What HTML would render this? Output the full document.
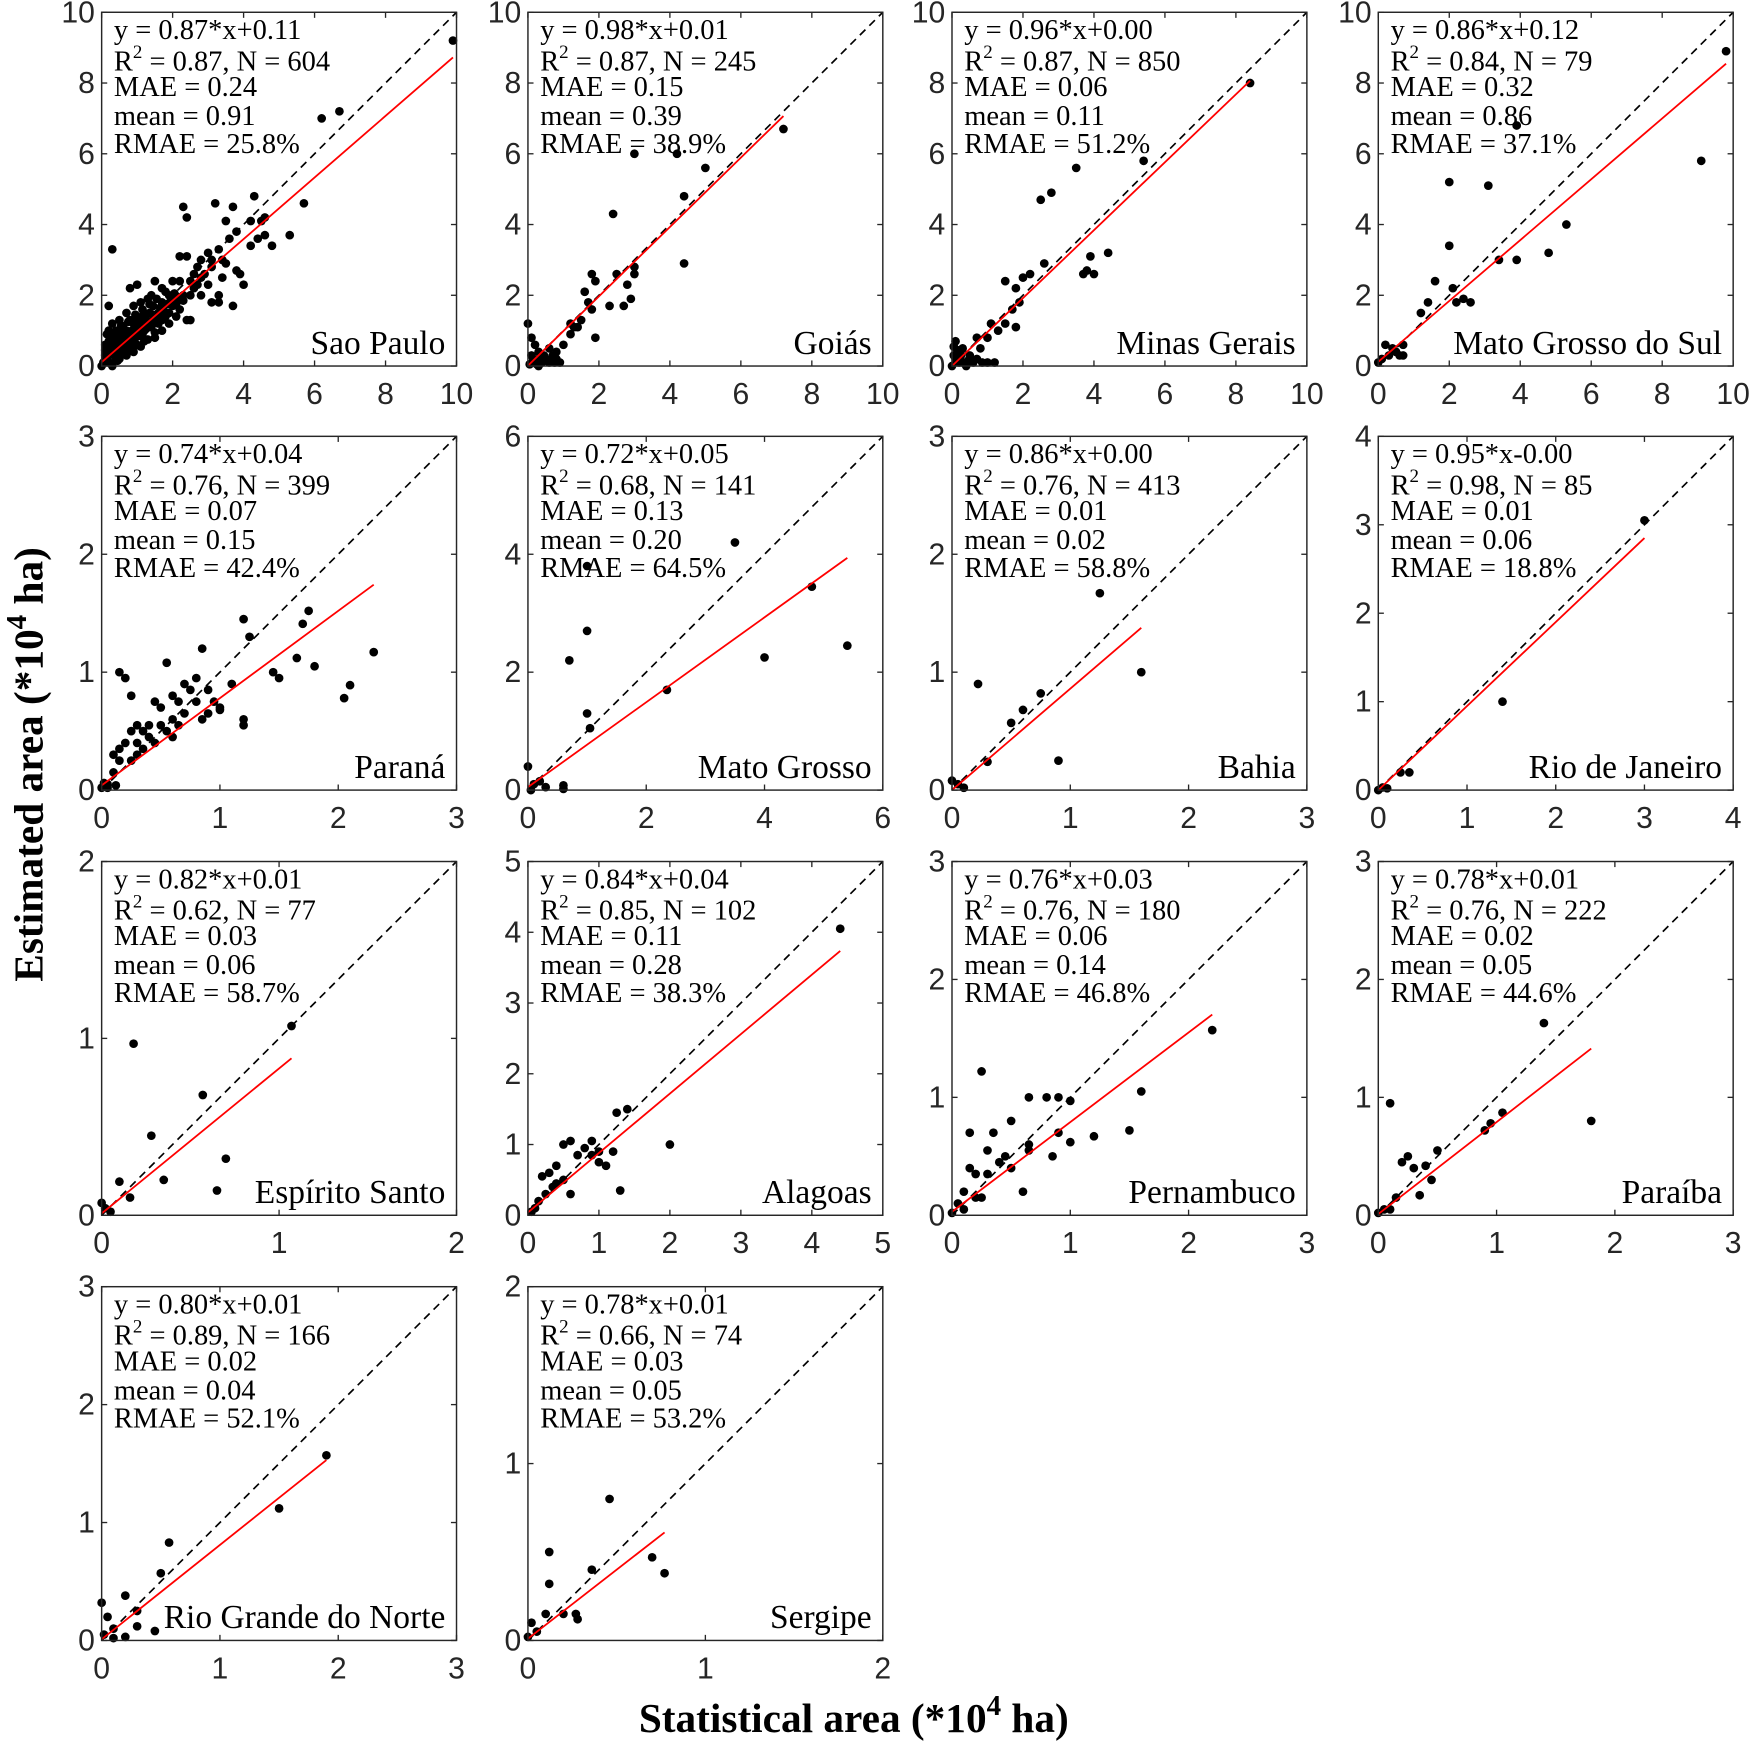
<!DOCTYPE html>
<html><head><meta charset="utf-8">
<style>
html,body{margin:0;padding:0;background:#fff;}
svg{display:block;}
.tick{font-family:"Liberation Sans",Arial,sans-serif;font-size:27px;fill:#262626;}
.st{font-family:"Liberation Serif","Times New Roman",serif;font-size:25.5px;fill:#000;}
.rg{font-family:"Liberation Serif","Times New Roman",serif;font-size:30px;fill:#000;}
.ttl{font-family:"Liberation Serif","Times New Roman",serif;font-size:37px;font-weight:bold;fill:#000;}
</style></head>
<body>
<svg id="fig" width="1750" height="1742" viewBox="0 0 1568 1561" xmlns="http://www.w3.org/2000/svg">
<text class="ttl" transform="translate(38,685) rotate(-90)" text-anchor="middle">Estimated area (*10<tspan dy="-15" font-size="26">4</tspan><tspan dy="15"> ha)</tspan></text>
<text class="ttl" x="765" y="1552" text-anchor="middle">Statistical area (*10<tspan dy="-15" font-size="26">4</tspan><tspan dy="15"> ha)</tspan></text>
</svg>
<script>
const regions=["Sao Paulo","Goiás","Minas Gerais","Mato Grosso do Sul","Paraná","Mato Grosso","Bahia","Rio de Janeiro","Espírito Santo","Alagoas","Pernambuco","Paraíba","Rio Grande do Norte","Sergipe"];
const axisMax=[10,10,10,10,3,6,3,4,2,5,3,3,3,2];
const tickStep=[2,2,2,2,1,2,1,1,1,1,1,1,1,1];
const slopes=[0.87,0.98,0.96,0.86,0.74,0.72,0.86,0.95,0.82,0.84,0.76,0.78,0.80,0.78];
const intercepts=[0.11,0.01,0.00,0.12,0.04,0.05,0.00,-0.00,0.01,0.04,0.03,0.01,0.01,0.01];
const fitXmax=[9.9,7.2,8.4,9.8,2.3,5.4,1.6,3.0,1.07,4.4,2.2,1.8,1.9,0.77];
const eqText=["0.87*x+0.11","0.98*x+0.01","0.96*x+0.00","0.86*x+0.12","0.74*x+0.04","0.72*x+0.05","0.86*x+0.00","0.95*x-0.00","0.82*x+0.01","0.84*x+0.04","0.76*x+0.03","0.78*x+0.01","0.80*x+0.01","0.78*x+0.01"];
const r2Text=["0.87","0.87","0.87","0.84","0.76","0.68","0.76","0.98","0.62","0.85","0.76","0.76","0.89","0.66"];
const nText=["604","245","850","79","399","141","413","85","77","102","180","222","166","74"];
const maeText=["0.24","0.15","0.06","0.32","0.07","0.13","0.01","0.01","0.03","0.11","0.06","0.02","0.02","0.03"];
const meanText=["0.91","0.39","0.11","0.86","0.15","0.20","0.02","0.06","0.06","0.28","0.14","0.05","0.04","0.05"];
const rmaeText=["25.8","38.9","51.2","37.1","42.4","64.5","58.8","18.8","58.7","38.3","46.8","44.6","52.1","53.2"];
const pts=[
[[9.9,9.2],[6.2,7.0],[6.7,7.2],[5.7,4.6],[5.3,3.7],[4.8,3.4],[4.3,4.8],[4.2,4.1],[4.5,4.1],[4.6,4.2],[4.4,3.6],[4.2,3.4],[4.6,3.7],[3.8,3.8],[3.7,4.5],[3.5,4.1],[3.6,3.6],[3.2,4.6],[2.3,4.5],[2.4,4.2],[0.3,3.3],[3.8,2.7],[3.9,2.6],[4.0,2.3],[3.3,1.8],[3.7,1.7],[3.1,1.8],[3.3,2.0],[2.8,3.0],[3.0,3.2],[3.3,3.3],[3.1,3.0],[2.9,2.6],[2.7,2.8],[2.2,3.1],[2.4,3.1],[2.2,2.4],[2.4,1.3],[2.5,1.3],[2.6,2.2],[2.0,2.4],[1.8,2.1],[1.5,2.4],[1.4,2.0],[1.0,2.3],[0.8,2.2],[0.2,1.7],[1.3,1.9],[3.5,2.9],[3.4,2.5],[3.0,2.3],[2.8,2.0],[2.5,2.4],[2.1,1.9],[1.9,2.0],[1.7,1.8],[1.6,1.5],[1.5,1.3],[1.3,1.2],[1.2,1.5],[1.1,1.1],[1.0,0.9],[0.9,1.2],[0.8,0.8],[0.7,1.0],[0.6,0.7],[0.5,0.9],[0.4,0.5],[0.3,0.8],[0.2,0.4],[0.1,0.3],[0.05,0.1],[0.0,0.0],[0.15,0.9],[0.3,1.2],[0.5,1.3],[0.7,1.5],[0.9,1.7],[1.1,1.8],[0.4,1.0],[0.6,1.1],[0.8,1.3],[1.0,1.4],[1.2,1.0],[1.4,1.1],[1.6,1.2],[1.8,1.4],[2.0,1.7],[2.2,1.6],[1.7,2.2],[1.2,0.7],[1.0,0.6],[0.8,0.5],[0.6,0.4],[0.4,0.2],[0.2,0.1],[1.5,0.8],[1.7,1.0],[1.9,1.2],[2.1,1.4],[2.3,2.0],[2.6,2.6],[2.8,2.5],[3.1,2.8],[3.4,3.0],[0.25,0.6],[0.35,0.3],[0.45,0.7],[0.55,0.5],[0.65,0.9],[0.75,0.6],[0.85,1.0],[0.95,0.8],[1.05,1.2],[1.15,0.9],[1.25,1.3],[1.35,1.5],[1.45,1.7],[1.55,1.9],[0.1,0.6],[0.2,1.0],[0.3,0.0],[0.5,0.2],[0.15,0.2],[0.25,0.35],[0.35,0.55],[0.45,0.4],[0.55,0.75],[0.65,0.55],[0.75,0.85],[0.85,0.7],[0.95,1.05],[1.05,0.85],[1.15,1.35],[1.25,1.05],[1.35,1.25],[1.45,1.45],[1.55,1.35],[1.65,1.65],[1.75,1.55],[1.85,1.75],[1.95,1.85],[2.05,2.05],[2.15,1.95],[0.35,0.95],[0.55,1.15],[0.75,1.25],[0.95,1.45],[1.15,1.6],[1.35,1.75],[0.1,0.45],[0.2,0.7],[0.45,0.15],[0.7,0.3],[0.9,0.4],[1.1,0.55],[1.3,0.75],[1.5,0.95],[1.7,1.3],[1.9,1.5],[2.1,1.75],[2.3,1.85],[2.5,2.0],[2.7,2.3]],
[[7.2,6.7],[4.2,6.0],[3.0,6.0],[5.0,5.6],[4.4,4.8],[4.4,2.9],[2.4,4.3],[3.0,2.8],[3.0,2.6],[2.8,2.3],[2.5,2.6],[2.3,1.7],[1.8,2.6],[1.9,2.4],[1.6,2.1],[1.7,1.8],[1.8,1.6],[1.9,0.8],[1.5,1.3],[1.3,1.1],[1.2,0.9],[1.0,0.6],[2.7,1.7],[2.9,1.9],[0.0,1.2],[0.1,0.3],[0.2,0.1],[0.3,0.4],[0.5,0.2],[0.7,0.3],[0.8,0.2],[0.1,0.8],[0.4,0.1],[0.6,0.5],[0.2,0.6],[0.9,0.1],[0.05,0.05],[0.3,0.0],[0.6,0.1],[0.8,0.4],[1.2,1.2],[1.4,1.1],[0.15,0.2],[0.35,0.25],[0.45,0.3],[0.55,0.15],[0.75,0.1],[0.25,0.05]],
[[8.4,8.0],[5.4,5.8],[3.5,5.6],[2.8,4.9],[2.5,4.7],[4.4,3.2],[3.9,3.1],[3.7,2.6],[3.8,2.7],[4.0,2.6],[2.6,2.9],[2.2,2.6],[2.0,2.5],[1.5,2.4],[1.8,2.2],[1.9,1.8],[1.7,1.6],[1.5,1.2],[1.8,1.1],[1.1,1.2],[1.3,1.0],[1.0,0.8],[0.8,0.5],[0.7,0.8],[1.2,0.1],[1.0,0.1],[0.5,0.3],[0.3,0.5],[0.1,0.7],[0.2,0.1],[0.05,0.3],[0.6,0.1],[0.4,0.0],[0.0,0.0],[0.1,0.2],[0.3,0.1],[0.15,0.45],[0.25,0.3],[0.45,0.15],[0.7,0.2],[0.85,0.1],[0.05,0.55]],
[[9.8,8.9],[9.1,5.8],[5.3,4.0],[4.8,3.2],[3.9,3.0],[3.4,3.0],[3.1,5.1],[3.9,6.8],[2.0,5.2],[2.0,3.4],[2.1,2.2],[1.6,2.4],[2.4,1.9],[2.6,1.8],[2.2,1.8],[1.4,1.8],[1.2,1.5],[0.7,0.6],[0.5,0.4],[0.6,0.3],[0.3,0.3],[0.2,0.6],[0.1,0.2],[0.0,0.1],[0.4,0.5],[0.7,0.3]],
[[2.3,1.17],[2.1,0.89],[2.05,0.78],[1.8,1.05],[1.75,1.52],[1.7,1.41],[1.65,1.12],[1.5,0.95],[1.45,1.0],[1.2,1.45],[1.25,1.3],[1.2,0.6],[1.2,0.55],[1.1,0.9],[0.95,0.75],[0.85,1.2],[0.8,0.95],[0.75,0.85],[0.55,1.08],[0.65,0.75],[0.6,0.6],[0.5,0.7],[0.5,0.55],[0.45,0.4],[0.35,0.5],[0.3,0.55],[0.25,0.5],[0.2,0.4],[0.15,1.0],[0.2,0.95],[0.25,0.8],[0.3,0.3],[0.15,0.25],[0.1,0.3],[0.1,0.15],[0.05,0.05],[0.0,0.02],[0.7,0.65],[0.9,0.65],[1.0,0.68],[0.4,0.45],[0.8,0.75],[0.6,0.8],[0.7,0.9],[0.35,0.35],[0.55,0.5],[0.9,0.85],[1.0,0.7],[0.45,0.75],[0.3,0.4],[0.15,0.35],[0.25,0.25],[0.4,0.55],[0.6,0.45],[0.85,0.6],[0.65,0.55],[0.05,0.02],[0.02,0.06],[0.12,0.04]],
[[3.5,4.2],[1.0,3.8],[1.0,2.7],[0.7,2.2],[1.0,1.3],[1.05,1.05],[2.35,1.7],[4.8,3.45],[4.0,2.25],[5.4,2.45],[0.0,0.4],[0.1,0.1],[0.3,0.05],[0.2,0.15],[0.6,0.08],[0.6,0.02],[0.05,0.0]],
[[1.25,1.67],[1.6,1.0],[0.22,0.9],[0.75,0.82],[0.6,0.68],[0.5,0.57],[0.3,0.24],[0.9,0.25],[0.05,0.05],[0.0,0.08],[0.1,0.02]],
[[3.0,3.05],[1.4,1.0],[0.25,0.2],[0.35,0.2],[0.05,0.03],[0.0,0.0],[0.1,0.02]],
[[1.07,1.07],[0.18,0.97],[0.57,0.68],[0.28,0.45],[0.7,0.32],[0.35,0.2],[0.65,0.14],[0.16,0.1],[0.1,0.19],[0.0,0.07],[0.05,0.02],[0.02,0.04]],
[[4.4,4.05],[2.0,1.0],[1.4,1.5],[1.25,1.45],[1.3,0.35],[1.2,0.9],[1.1,0.7],[1.0,0.9],[0.9,1.05],[0.8,0.95],[0.7,0.85],[0.6,1.05],[0.5,1.0],[0.4,0.7],[0.3,0.6],[0.2,0.55],[0.35,0.4],[0.5,0.5],[0.25,0.3],[0.15,0.2],[0.1,0.1],[0.05,0.05],[0.6,0.3],[1.0,0.75],[0.9,0.85],[0.4,0.45]],
[[2.2,1.57],[1.6,1.05],[1.5,0.72],[1.2,0.67],[1.0,0.97],[1.0,0.62],[0.9,1.0],[0.8,1.0],[0.65,1.0],[0.6,0.2],[0.5,0.8],[0.85,0.5],[0.9,0.7],[0.65,0.6],[0.5,0.4],[0.45,0.5],[0.35,0.7],[0.3,0.55],[0.25,1.22],[0.15,0.7],[0.15,0.4],[0.2,0.35],[0.3,0.35],[0.4,0.45],[0.25,0.15],[0.2,0.15],[0.1,0.2],[0.05,0.1],[0.0,0.02],[0.1,0.05],[0.65,0.55]],
[[1.4,1.63],[1.8,0.8],[1.05,0.87],[0.95,0.78],[0.9,0.72],[0.5,0.55],[0.45,0.3],[0.4,0.42],[0.35,0.17],[0.3,0.4],[0.25,0.5],[0.2,0.45],[0.1,0.95],[0.15,0.15],[0.05,0.05],[0.0,0.02],[0.1,0.05]],
[[1.9,1.57],[1.5,1.12],[0.57,0.83],[0.5,0.57],[0.2,0.38],[0.3,0.25],[0.45,0.08],[0.3,0.12],[0.2,0.03],[0.1,0.1],[0.0,0.32],[0.05,0.2],[0.02,0.05],[0.1,0.02]],
[[0.46,0.8],[0.7,0.47],[0.77,0.38],[0.12,0.5],[0.12,0.32],[0.36,0.4],[0.27,0.15],[0.28,0.12],[0.1,0.15],[0.05,0.05],[0.0,0.02],[0.02,0.1],[0.2,0.15]]
];
const NS="http://www.w3.org/2000/svg";
const svg=document.getElementById('fig');
function mk(tag,attrs,parent){const e=document.createElementNS(NS,tag);for(const k in attrs)e.setAttribute(k,attrs[k]);(parent||svg).appendChild(e);return e;}
const colX=[91,473,853,1235], rowY=[11,391,772,1153], W=318, H=317;
regions.forEach((name,i)=>{
  const L=colX[i%4], T=rowY[Math.floor(i/4)], R=L+W, B=T+H, m=axisMax[i];
  const sx=v=>L+v/m*W, sy=v=>B-v/m*H;
  const g=mk('g',{});
  
  
  const d=mk('line',{x1:sx(0),y1:sy(0),x2:sx(m),y2:sy(m),stroke:'#000','stroke-width':1.5,'stroke-dasharray':'7,5'},g);
  
  
  pts[i].forEach(p=>{
    const c=mk('circle',{cx:sx(p[0]),cy:sy(p[1]),r:3.9,fill:'#000'},g);
    
    
  });
  const x0=0,x1=fitXmax[i];
  const f=mk('line',{x1:sx(x0),y1:sy(slopes[i]*x0+intercepts[i]),x2:sx(x1),y2:sy(slopes[i]*x1+intercepts[i]),stroke:'#ff0000','stroke-width':1.6},g);
  
  
  const bx=mk('rect',{x:L,y:T,width:W,height:H,fill:'none',stroke:'#262626','stroke-width':1.3},g);
  
  
  for(let v=0;v<=m+1e-9;v+=tickStep[i]){
    const X=sx(v),Y=sy(v);
    mk('line',{x1:X,y1:B,x2:X,y2:B-5,stroke:'#262626','stroke-width':1.2},g);
    mk('line',{x1:X,y1:T,x2:X,y2:T+5,stroke:'#262626','stroke-width':1.2},g);
    mk('line',{x1:L,y1:Y,x2:L+5,y2:Y,stroke:'#262626','stroke-width':1.2},g);
    mk('line',{x1:R,y1:Y,x2:R-5,y2:Y,stroke:'#262626','stroke-width':1.2},g);
    const tx=mk('text',{x:X,y:B+34,'text-anchor':'middle',class:'tick'},g);tx.textContent=String(v);
    
    
    const ty=mk('text',{x:L-6,y:Y+9,'text-anchor':'end',class:'tick'},g);ty.textContent=String(v);
    
    
  }
  const st=mk('g',{},g);
  
  
  const lines=[['y = '+eqText[i],24],[null,52],['MAE = '+maeText[i],75],['mean = '+meanText[i],101],['RMAE = '+rmaeText[i]+'%',126]];
  lines.forEach(l=>{
    if(l[0]===null){
      const t=mk('text',{class:'st',x:L+11,y:T+52},st);
      t.innerHTML='R<tspan dy="-11" font-size="17">2</tspan><tspan dy="11"> = '+r2Text[i]+', N = '+nText[i]+'</tspan>';
    } else {
      const t=mk('text',{class:'st',x:L+11,y:T+l[1]},st);t.textContent=l[0];
    }
  });
  const rl=mk('text',{class:'rg',x:R-10,y:B-11,'text-anchor':'end'},g);rl.textContent=name;
  
  
});
</script>
</body></html>
